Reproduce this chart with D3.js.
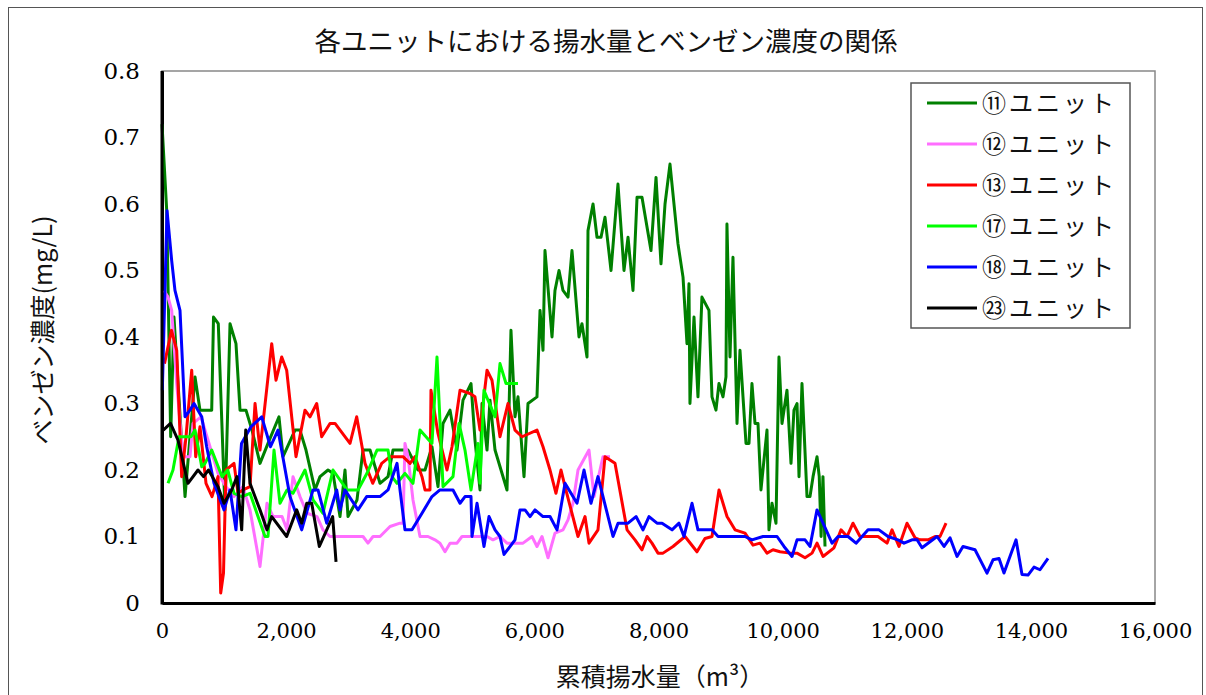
<!DOCTYPE html>
<html><head><meta charset="utf-8">
<script src="https://cdn.jsdelivr.net/npm/d3@7"></script>
<style>html,body{margin:0;padding:0;background:#fff;}svg{display:block;}</style>
</head><body>
<svg id="chart" width="1206" height="695"></svg>
<script>
const title = "各ユニットにおける揚水量とベンゼン濃度の関係";
const xTitle = "累積揚水量（m³）";
const yTitle = "ベンゼン濃度(mg/L)";
const xTicks = [0,2000,4000,6000,8000,10000,12000,14000,16000];
const yTicks = [0,0.1,0.2,0.3,0.4,0.5,0.6,0.7,0.8];
const seriesNames = ["⑪ユニット","⑫ユニット","⑬ユニット","⑰ユニット","⑱ユニット","㉓ユニット"];
const seriesColors = ["#008000","#ff6eff","#ff0000","#00ff00","#0000ff","#000000"];

const unit11 = [[0,0.72],[76,0.59],[140,0.25],[193,0.43],[371,0.16],[532,0.34],[612,0.29],[801,0.29],[830,0.43],[907,0.42],[1015,0.14],[1096,0.42],[1192,0.39],[1257,0.29],[1353,0.29],[1450,0.26],[1579,0.21],[1708,0.24],[1885,0.28],[1950,0.22],[2143,0.26],[2223,0.26],[2320,0.23],[2465,0.17],[2546,0.19],[2675,0.20],[2755,0.195],[2868,0.13],[2949,0.20],[2997,0.13],[3142,0.155],[3239,0.23],[3352,0.23],[3513,0.18],[3642,0.19],[3722,0.23],[3964,0.23],[4044,0.215],[4125,0.20],[4238,0.20],[4350,0.235],[4447,0.175],[4528,0.27],[4641,0.29],[4753,0.23],[4850,0.305],[4979,0.33],[5043,0.245],[5124,0.17],[5156,0.30],[5237,0.23],[5285,0.305],[5366,0.23],[5559,0.17],[5623,0.41],[5688,0.28],[5736,0.31],[5833,0.19],[5897,0.30],[6042,0.31],[6091,0.44],[6139,0.38],[6171,0.53],[6284,0.40],[6332,0.47],[6397,0.50],[6461,0.47],[6542,0.46],[6606,0.53],[6719,0.40],[6767,0.42],[6848,0.37],[6864,0.56],[6945,0.60],[7009,0.55],[7074,0.55],[7138,0.58],[7235,0.50],[7347,0.63],[7444,0.50],[7509,0.55],[7589,0.47],[7654,0.61],[7734,0.61],[7879,0.53],[7960,0.64],[8040,0.51],[8105,0.60],[8185,0.66],[8314,0.54],[8395,0.49],[8459,0.39],[8491,0.48],[8507,0.30],[8572,0.43],[8636,0.31],[8700,0.46],[8813,0.44],[8862,0.31],[8926,0.29],[8974,0.33],[9039,0.31],[9087,0.34],[9103,0.57],[9152,0.37],[9200,0.52],[9265,0.27],[9313,0.38],[9410,0.24],[9458,0.24],[9506,0.33],[9555,0.27],[9603,0.27],[9651,0.17],[9748,0.26],[9780,0.11],[9829,0.15],[9893,0.12],[9941,0.37],[9990,0.27],[10070,0.32],[10135,0.21],[10183,0.29],[10232,0.30],[10264,0.19],[10312,0.33],[10393,0.16],[10441,0.16],[10490,0.19],[10554,0.22],[10590,0.19],[10620,0.10],[10650,0.19],[10683,0.085]];

const unit12 = [[32,0.47],[97,0.46],[156,0.44],[237,0.33],[338,0.22],[451,0.22],[500,0.27],[628,0.28],[725,0.25],[902,0.195],[1031,0.175],[1160,0.16],[1305,0.175],[1418,0.14],[1579,0.055],[1692,0.15],[1789,0.13],[1934,0.13],[2014,0.11],[2111,0.19],[2223,0.16],[2336,0.135],[2498,0.13],[2594,0.11],[2707,0.10],[3239,0.10],[3319,0.09],[3400,0.10],[3513,0.10],[3674,0.115],[3835,0.12],[3883,0.12],[3915,0.24],[3964,0.22],[4044,0.155],[4157,0.10],[4286,0.10],[4399,0.095],[4479,0.09],[4560,0.077],[4641,0.09],[4753,0.09],[4834,0.10],[4963,0.10],[5124,0.10],[5237,0.10],[5333,0.095],[5446,0.10],[5559,0.09],[5688,0.09],[5817,0.09],[5962,0.10],[6042,0.085],[6123,0.10],[6220,0.068],[6332,0.105],[6461,0.11],[6542,0.125],[6622,0.15],[6703,0.20],[6880,0.23],[6961,0.16],[7106,0.22],[7219,0.22]];

const unit13 = [[40,0.36],[153,0.41],[237,0.38],[317,0.19],[387,0.25],[479,0.35],[543,0.22],[612,0.265],[709,0.18],[806,0.16],[902,0.19],[946,0.015],[991,0.045],[1031,0.20],[1160,0.21],[1225,0.165],[1305,0.17],[1418,0.175],[1499,0.30],[1579,0.23],[1768,0.39],[1837,0.335],[1929,0.37],[2009,0.35],[2159,0.22],[2304,0.29],[2385,0.28],[2493,0.30],[2573,0.25],[2707,0.27],[2788,0.27],[3029,0.24],[3137,0.28],[3271,0.21],[3395,0.18],[3540,0.21],[3674,0.22],[3883,0.22],[3996,0.21],[4077,0.22],[4189,0.19],[4238,0.17],[4318,0.17],[4334,0.32],[4447,0.255],[4592,0.20],[4673,0.235],[4802,0.32],[4963,0.315],[5043,0.31],[5124,0.26],[5237,0.35],[5317,0.335],[5446,0.25],[5575,0.30],[5688,0.26],[5801,0.25],[6042,0.26],[6139,0.235],[6252,0.20],[6348,0.165],[6429,0.20],[6494,0.175],[6703,0.10],[6816,0.13],[6880,0.09],[7025,0.11],[7138,0.22],[7299,0.21],[7396,0.16],[7493,0.11],[7621,0.095],[7734,0.08],[7815,0.10],[7895,0.09],[7992,0.075],[8073,0.075],[8234,0.085],[8427,0.10],[8620,0.077],[8749,0.097],[8862,0.10],[8975,0.17],[9104,0.13],[9233,0.11],[9394,0.105],[9523,0.087],[9636,0.09],[9748,0.075],[9845,0.08],[9958,0.077],[10119,0.075],[10232,0.075],[10361,0.068],[10474,0.075],[10554,0.09],[10651,0.07],[10828,0.083],[10941,0.11],[11038,0.10],[11134,0.12],[11247,0.10],[11537,0.10],[11682,0.09],[11763,0.11],[11875,0.085],[12004,0.12],[12133,0.098],[12214,0.095],[12343,0.095],[12456,0.10],[12536,0.10],[12633,0.12]];

const unit17 = [[97,0.18],[177,0.20],[274,0.25],[467,0.25],[532,0.26],[640,0.205],[693,0.21],[801,0.23],[967,0.19],[1059,0.20],[1160,0.165],[1289,0.16],[1418,0.165],[1547,0.13],[1660,0.10],[1708,0.10],[1805,0.23],[1901,0.15],[2014,0.17],[2111,0.165],[2304,0.20],[2433,0.155],[2594,0.135],[2755,0.20],[2981,0.17],[3158,0.17],[3303,0.195],[3464,0.23],[3642,0.23],[3706,0.19],[3787,0.18],[3915,0.195],[4044,0.18],[4157,0.26],[4350,0.24],[4431,0.37],[4528,0.175],[4689,0.19],[4786,0.27],[4882,0.23],[4979,0.17],[5092,0.24],[5124,0.18],[5188,0.32],[5253,0.305],[5366,0.28],[5446,0.36],[5543,0.33],[5736,0.33]];

const unit18 = [[5,0.32],[81,0.59],[156,0.515],[209,0.47],[290,0.44],[371,0.28],[451,0.29],[516,0.30],[640,0.28],[720,0.235],[838,0.18],[999,0.14],[1096,0.17],[1192,0.11],[1281,0.24],[1434,0.265],[1607,0.28],[1748,0.235],[1869,0.26],[2062,0.16],[2251,0.11],[2433,0.17],[2514,0.17],[2654,0.12],[2815,0.17],[2868,0.14],[2949,0.17],[3158,0.14],[3298,0.16],[3513,0.16],[3642,0.17],[3787,0.21],[3835,0.17],[3915,0.11],[4028,0.11],[4189,0.135],[4350,0.16],[4479,0.17],[4689,0.17],[4802,0.15],[4882,0.16],[4979,0.16],[4995,0.10],[5076,0.15],[5188,0.085],[5269,0.13],[5366,0.11],[5446,0.10],[5511,0.073],[5688,0.095],[5768,0.14],[5849,0.14],[5930,0.13],[6010,0.14],[6139,0.13],[6252,0.13],[6365,0.11],[6494,0.18],[6687,0.15],[6800,0.20],[6912,0.15],[7025,0.19],[7267,0.10],[7348,0.12],[7509,0.12],[7638,0.13],[7750,0.11],[7847,0.13],[7976,0.12],[8057,0.12],[8218,0.11],[8330,0.12],[8411,0.10],[8540,0.15],[8636,0.11],[8862,0.11],[8959,0.10],[9394,0.10],[9506,0.095],[9684,0.10],[9910,0.10],[10022,0.085],[10151,0.07],[10232,0.095],[10361,0.095],[10441,0.085],[10554,0.14],[10651,0.12],[10796,0.09],[10893,0.10],[11054,0.10],[11183,0.09],[11376,0.11],[11553,0.11],[11698,0.10],[11859,0.095],[11956,0.09],[12085,0.095],[12166,0.095],[12246,0.083],[12488,0.10],[12601,0.085],[12697,0.098],[12810,0.07],[12906,0.085],[13100,0.08],[13293,0.045],[13390,0.065],[13487,0.067],[13567,0.045],[13761,0.095],[13857,0.043],[13954,0.042],[14051,0.054],[14147,0.05],[14276,0.067]];

const unit23 = [[21,0.26],[137,0.27],[258,0.245],[419,0.18],[580,0.20],[669,0.19],[749,0.20],[902,0.175],[999,0.15],[1123,0.17],[1208,0.19],[1284,0.11],[1349,0.26],[1418,0.18],[1579,0.14],[1692,0.11],[1768,0.13],[2009,0.10],[2170,0.14],[2251,0.12],[2332,0.15],[2412,0.15],[2535,0.085],[2750,0.13],[2804,0.062]];

const allSeries = [unit11, unit12, unit13, unit17, unit18, unit23];

const W = 1206, H = 695;
const m = {left:162, top:71, right:1155, bottom:603};
const svg = d3.select("#chart");
const jp = "'Noto Sans CJK JP', sans-serif";
const num = "'DejaVu Serif', 'Liberation Serif', serif";

svg.append("rect").attr("width",W).attr("height",H).attr("fill","#fff");
// outer chart border
svg.append("rect").attr("x",8.5).attr("y",7.5).attr("width",1194).attr("height",700)
  .attr("fill","none").attr("stroke","#555").attr("stroke-width",1);

const x = d3.scaleLinear().domain([0,16000]).range([m.left,m.right]);
const y = d3.scaleLinear().domain([0,0.8]).range([m.bottom,m.top]);

// plot area frame
svg.append("rect").attr("x",m.left).attr("y",m.top).attr("width",m.right-m.left).attr("height",m.bottom-m.top)
  .attr("fill","none").attr("stroke","#888").attr("stroke-width",1.5);

// title
svg.append("text").attr("x",606).attr("y",51).attr("text-anchor","middle")
  .style("font-family",jp).style("font-size","26.5px").attr("fill","#111").text(title);

// axes
const xAxis = d3.axisBottom(x).tickValues(xTicks).tickSize(0).tickPadding(20)
  .tickFormat(d3.format(","));
const gx = svg.append("g").attr("transform",`translate(0,${m.bottom})`).call(xAxis);
gx.select(".domain").attr("stroke","#000").attr("stroke-width",3);
gx.selectAll("text").style("font-family",num).style("font-size","21px").attr("fill","#000").attr("dy","0.7em");

const yAxis = d3.axisLeft(y).tickValues(yTicks).tickSize(0).tickPadding(22)
  .tickFormat(d => d === 0 ? "0" : d3.format(".1f")(d));
const gy = svg.append("g").attr("transform",`translate(${m.left},0)`).call(yAxis);
gy.select(".domain").attr("stroke","#000").attr("stroke-width",3);
gy.selectAll("text").style("font-family",num).style("font-size","23px").attr("fill","#000");

// axis titles
svg.append("text").attr("x",660).attr("y",686).attr("text-anchor","middle")
  .style("font-family",jp).style("font-size","25px").attr("fill","#111").text(xTitle);
svg.append("text").attr("transform","translate(52,330) rotate(-90)").attr("text-anchor","middle")
  .style("font-family",jp).style("font-size","25px").attr("fill","#111").text(yTitle);

// lines
const line = d3.line().x(d => x(d[0])).y(d => y(d[1]));
const gLines = svg.append("g");
allSeries.forEach((s,i) => {
  gLines.append("path").datum(s).attr("d",line).attr("fill","none")
    .attr("stroke",seriesColors[i]).attr("stroke-width",3).attr("stroke-linejoin","round");
});
svg.append("line").attr("x1",m.left).attr("x2",m.left).attr("y1",m.top).attr("y2",m.bottom+1.5).attr("stroke","#000").attr("stroke-width",3);

// legend
const lg = svg.append("g").attr("transform","translate(911,83)");
lg.append("rect").attr("width",219).attr("height",245).attr("fill","#fff").attr("stroke","#555").attr("stroke-width",1.5);
seriesNames.forEach((n,i) => {
  const yy = 20 + i*41;
  lg.append("line").attr("x1",16).attr("x2",66).attr("y1",yy).attr("y2",yy)
    .attr("stroke",seriesColors[i]).attr("stroke-width",3);
  lg.append("text").attr("x",71).attr("y",yy).attr("dy","0.36em")
    .style("font-family",jp).style("font-size","24px").style("letter-spacing","3px").attr("fill","#111").text(n);
});
</script>
</body></html>
